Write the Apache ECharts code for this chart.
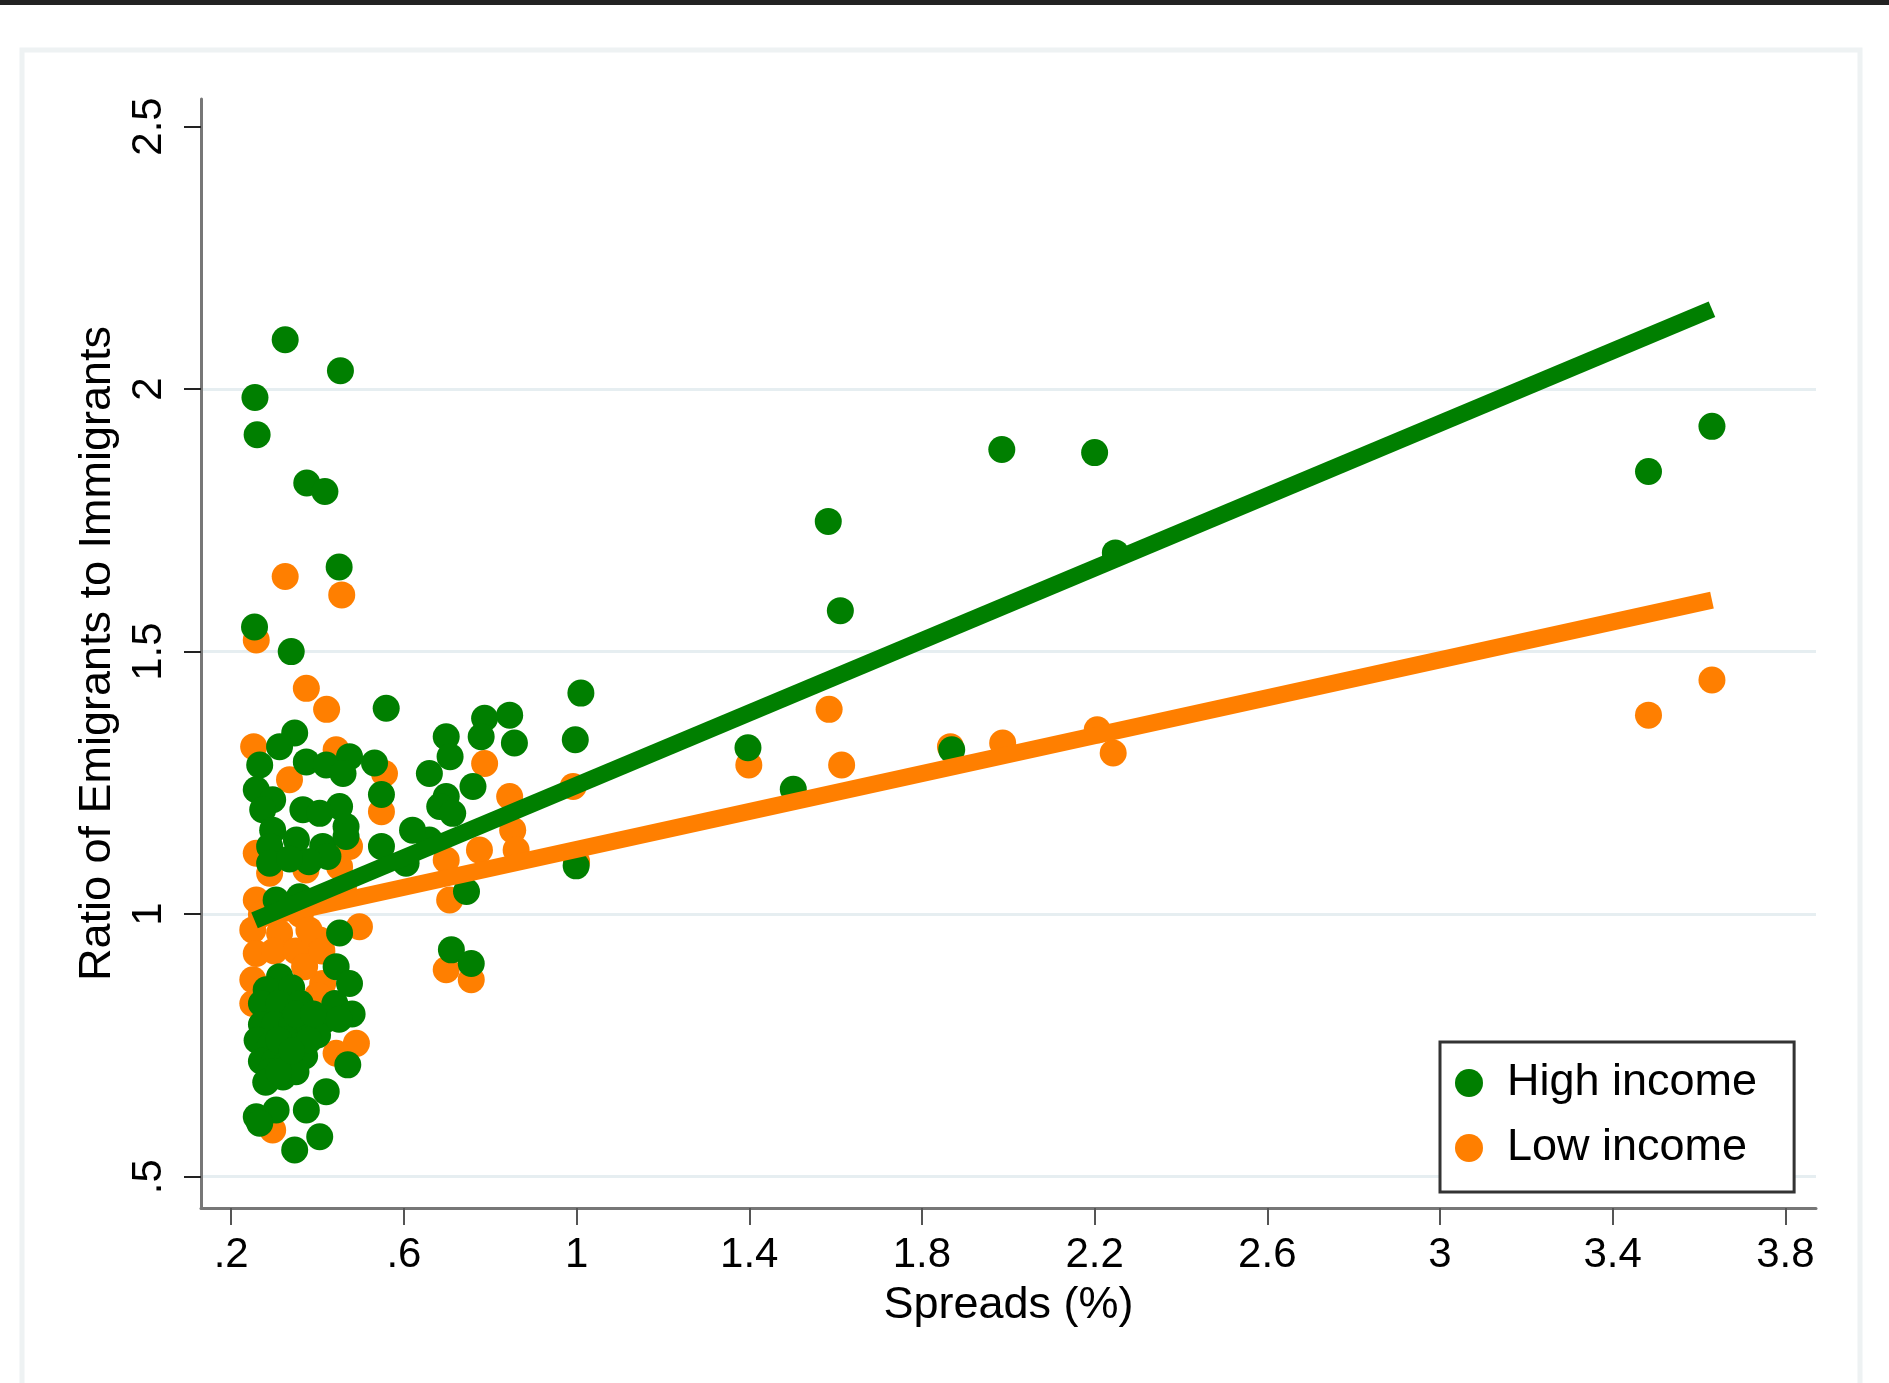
<!DOCTYPE html>
<html>
<head>
<meta charset="utf-8">
<script src="https://cdn.jsdelivr.net/npm/echarts@6/dist/echarts.min.js"></script>
<style>
html,body{margin:0;padding:0;background:#ffffff;}
#chart{width:1889px;height:1383px;}
</style>
</head>
<body>
<div id="chart"></div>
<script>
// ---------------- DATA ----------------
const highIncomeX = [
  0.325,0.453,0.255,0.260,0.375,0.417,0.450,0.254,0.339,0.559,
  1.985,2.200,1.583,1.611,2.248,3.483,3.630,1.010,0.997,0.999,1.397,1.502,1.869,
  0.787,0.845,0.779,0.856,0.698,0.707,0.659,0.760,0.548,0.532,0.698,0.683,0.713,0.548,0.605,0.659,0.620,0.745,0.710,0.756,
  0.347,0.312,0.266,0.374,0.420,0.474,0.459,0.258,0.296,0.273,0.366,0.451,0.466,0.405,0.296,0.289,0.289,0.351,0.412,0.424,0.466,0.380,0.335,0.304,0.358,0.451,0.443,0.474,0.312,0.281,
  0.340,0.270,0.310,0.360,0.440,0.480,0.270,0.300,0.340,0.380,0.420,0.260,0.290,0.330,0.360,0.400,0.270,0.300,0.330,0.370,0.290,0.320,0.350,0.470,0.420,0.280,
  0.350,0.390,0.450,0.310,0.380,0.310,0.340,
  0.258,0.304,0.374,0.405,0.347,0.266
];
const highIncomeY = [
  2.094,2.035,1.984,1.913,1.821,1.805,1.661,1.547,1.500,1.392,
  1.885,1.879,1.748,1.578,1.688,1.843,1.929,1.421,1.332,1.092,1.317,1.238,1.313,
  1.373,1.379,1.338,1.326,1.338,1.300,1.268,1.243,1.228,1.288,1.224,1.205,1.192,1.129,1.097,1.141,1.160,1.043,0.932,0.906,
  1.345,1.319,1.284,1.290,1.284,1.300,1.268,1.237,1.218,1.199,1.199,1.205,1.167,1.192,1.160,1.129,1.097,1.141,1.129,1.110,1.148,1.100,1.105,1.027,1.033,0.964,0.900,0.868,0.881,0.856,
  0.860,0.830,0.830,0.830,0.830,0.810,0.790,0.790,0.790,0.790,0.800,0.760,0.750,0.760,0.750,0.770,0.720,0.720,0.720,0.730,0.700,0.690,0.700,0.713,0.662,0.680,
  0.810,0.810,0.800,0.760,0.760,0.700,0.740,
  0.614,0.627,0.627,0.576,0.551,0.602
];
const lowIncomeX = [
  0.325,0.456,0.258,0.374,0.421,0.252,0.443,0.335,0.555,0.548,
  0.787,0.845,0.852,0.860,0.775,0.698,0.706,0.992,1.000,
  1.585,1.614,1.399,1.866,1.987,2.206,2.243,3.483,3.630,
  0.698,0.756,0.258,0.474,0.289,0.373,0.451,0.258,0.497,0.250,0.312,0.258,0.405,0.412,0.250,0.490,0.443,0.296,
  0.360,0.270,0.300,0.350,0.380,0.250,0.370,0.460,0.400,0.410
];
const lowIncomeY = [
  1.643,1.608,1.522,1.430,1.390,1.319,1.313,1.256,1.268,1.195,
  1.287,1.224,1.160,1.122,1.122,1.103,1.027,1.243,1.100,
  1.390,1.284,1.284,1.319,1.326,1.351,1.307,1.379,1.446,
  0.894,0.875,1.116,1.129,1.078,1.084,1.090,1.027,0.976,0.970,0.964,0.925,0.951,0.868,0.875,0.754,0.735,0.589,
  1.000,1.000,0.930,0.930,0.970,0.830,0.900,1.050,0.845,0.930
];
// fitted lines (end points)
const highFitX = [0.254, 3.630];
const highFitY = [0.988, 2.152];
const lowFitX = [0.250, 3.630];
const lowFitY = [0.988, 1.598];

const xTickValues = [0.2, 0.6, 1, 1.4, 1.8, 2.2, 2.6, 3, 3.4, 3.8];
const xTickLabels = ['.2', '.6', '1', '1.4', '1.8', '2.2', '2.6', '3', '3.4', '3.8'];
const yTickValues = [0.5, 1, 1.5, 2, 2.5];
const yTickLabels = ['.5', '1', '1.5', '2', '2.5'];
const yGridValues = [0.5, 1, 1.5, 2];

const xTitle = 'Spreads (%)';
const yTitle = 'Ratio of Emigrants to Immigrants';
const legendNames = ['High income', 'Low income'];

// ---------------- CHART ----------------
const FONT = "'Liberation Sans', Arial, Helvetica, sans-serif";
const GREEN = '#007f00';
const ORANGE = '#ff7f00';

function pairs(xs, ys) { return xs.map((x, i) => [x, ys[i]]); }
function lookup(vals, labels) {
  return function (v) {
    for (let i = 0; i < vals.length; i++) if (Math.abs(vals[i] - v) < 1e-6) return labels[i];
    return '';
  };
}

const chart = echarts.init(document.getElementById('chart'), null, { renderer: 'canvas' });
chart.setOption({
  animation: false,
  backgroundColor: '#ffffff',
  graphic: [
    { type: 'rect', silent: true, z: 0, shape: { x: 0, y: 0, width: 1889, height: 5 }, style: { fill: '#222222' } },
    { type: 'rect', silent: true, z: 0, shape: { x: 22, y: 50, width: 1838, height: 1400 }, style: { fill: null, stroke: '#eef2f3', lineWidth: 5 } }
  ],
  grid: { left: 201, right: 73, top: 99, bottom: 175, containLabel: false, outerBoundsMode: 'none' },
  xAxis: {
    type: 'value', min: 0.130, max: 3.871,
    axisLine: { show: true, onZero: false, lineStyle: { color: '#777777', width: 3 } },
    axisTick: { show: true, customValues: xTickValues, length: 17, lineStyle: { color: '#555555', width: 2 } },
    axisLabel: { show: true, customValues: xTickValues, margin: 26, fontSize: 42, color: '#000', fontFamily: FONT, formatter: lookup(xTickValues, xTickLabels) },
    splitLine: { show: false },
    name: xTitle, nameLocation: 'middle', nameGap: 75,
    nameTextStyle: { fontSize: 45, color: '#000', fontFamily: FONT }
  },
  yAxis: [
    {
      type: 'value', min: 0.4404, max: 2.5524,
      axisLine: { show: true, onZero: false, lineStyle: { color: '#777777', width: 3 } },
      axisTick: { show: true, customValues: yTickValues, length: 17, lineStyle: { color: '#222222', width: 2 } },
      axisLabel: { show: true, customValues: yTickValues, rotate: 90, margin: 31, fontSize: 42, color: '#000', fontFamily: FONT, formatter: lookup(yTickValues, yTickLabels) },
      splitLine: { show: false },
      name: yTitle, nameLocation: 'middle', nameGap: 78,
      nameTextStyle: { fontSize: 45, color: '#000', fontFamily: FONT }
    },
    {
      type: 'value', min: 0.4404, max: 2.5524, position: 'left',
      axisLine: { show: false },
      axisTick: { show: false, customValues: yGridValues },
      axisLabel: { show: false, customValues: yGridValues },
      splitLine: { show: true, lineStyle: { color: '#e6eef1', width: 3 } }
    }
  ],
  legend: {
    data: legendNames, orient: 'vertical', left: 1440, top: 1042,
    padding: [18, 37, 21, 15], itemGap: 19, itemWidth: 28, itemHeight: 28, icon: 'circle',
    backgroundColor: '#ffffff', borderColor: '#333333', borderWidth: 3, borderRadius: 0,
    selectedMode: false,
    textStyle: { fontSize: 45, color: '#000', fontFamily: FONT, lineHeight: 46, padding: [0, 0, 0, 19] }
  },
  series: [
    {
      name: legendNames[1], type: 'scatter', z: 2, symbol: 'circle', symbolSize: 27,
      itemStyle: { color: ORANGE, opacity: 1 }, emphasis: { disabled: true },
      data: pairs(lowIncomeX, lowIncomeY)
    },
    {
      name: legendNames[0], type: 'scatter', z: 3, symbol: 'circle', symbolSize: 27,
      itemStyle: { color: GREEN, opacity: 1 }, emphasis: { disabled: true },
      data: pairs(highIncomeX, highIncomeY)
    },
    {
      name: 'Low income fit', type: 'line', z: 4, symbol: 'none', showSymbol: false,
      lineStyle: { color: ORANGE, width: 17, cap: 'butt' }, itemStyle: { color: ORANGE },
      emphasis: { disabled: true },
      data: pairs(lowFitX, lowFitY)
    },
    {
      name: 'High income fit', type: 'line', z: 5, symbol: 'none', showSymbol: false,
      lineStyle: { color: GREEN, width: 17, cap: 'butt' }, itemStyle: { color: GREEN },
      emphasis: { disabled: true },
      data: pairs(highFitX, highFitY)
    }
  ]
});
</script>
</body>
</html>
